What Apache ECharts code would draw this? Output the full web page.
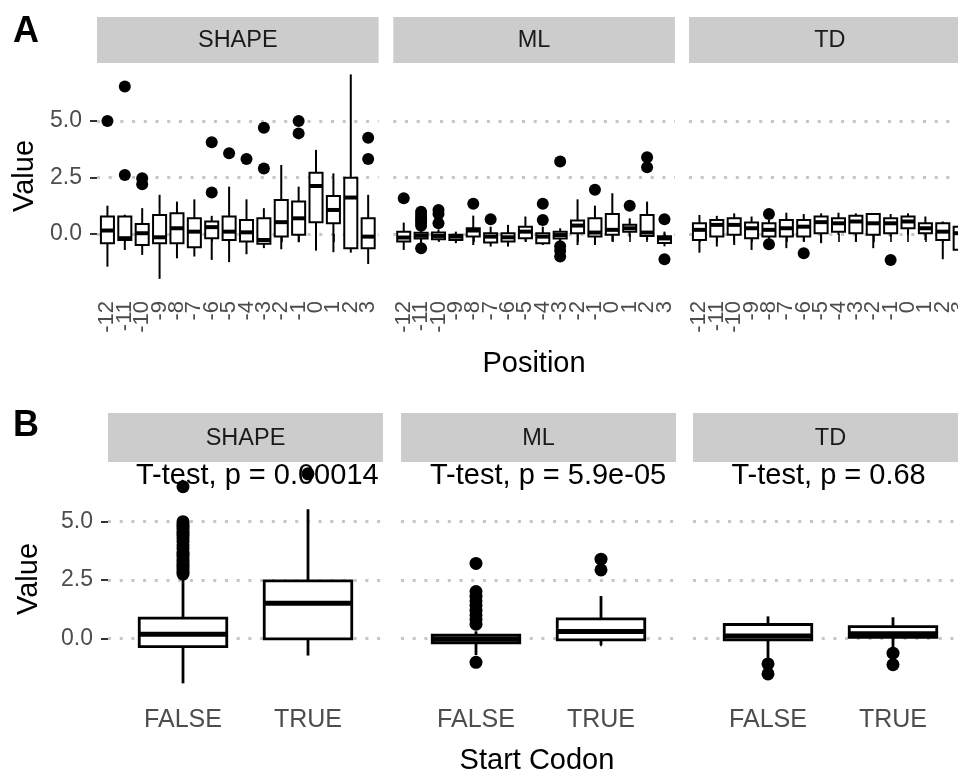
<!DOCTYPE html>
<html><head><meta charset="utf-8">
<script src="https://cdn.jsdelivr.net/npm/echarts@6/dist/echarts.min.js"></script>
<style>html,body{margin:0;padding:0;background:#fff}#c{width:958px;height:770px}</style>
</head><body><div id="c"></div>
<script>
// ---------- DATA ----------
const facetNames = ['SHAPE', 'ML', 'TD'];
const positions = ['-12','-11','-10','-9','-8','-7','-6','-5','-4','-3','-2','-1','0','1','2','3'];
const codonCats = ['FALSE', 'TRUE'];
const yTickValues = [0, 2.5, 5];
const tTestLabels = ['T-test, p = 0.00014', 'T-test, p = 5.9e-05', 'T-test, p = 0.68'];

// box stats: [lower whisker, Q1, median, Q3, upper whisker]
const shapeBoxA = [
  [-1.45,-0.41,0.15,0.77,1.25], [-0.71,-0.27,-0.19,0.77,0.85], [-0.93,-0.49,0.03,0.44,1.14],
  [-1.99,-0.41,-0.15,0.84,1.73], [-1.08,-0.41,0.25,0.91,1.43], [-1.0,-0.59,0.1,0.69,1.53],
  [-1.15,-0.19,0.3,0.55,0.8], [-1.25,-0.27,0.1,0.77,2.09], [-0.9,-0.34,0.07,0.62,1.53],
  [-0.63,-0.44,-0.27,0.69,1.14], [-0.68,-0.12,0.52,1.5,3.05], [-0.37,-0.04,0.69,1.43,2.09],
  [-0.74,0.52,2.12,2.71,3.72], [-0.81,0.47,1.06,1.68,2.68], [-0.83,-0.63,1.61,2.49,7.06],
  [-1.33,-0.63,-0.12,0.69,1.73]
];
const shapeOutA = [[0,5.0],[1,6.52],[1,2.61],[2,2.46],[2,2.2],[6,4.06],[6,1.83],[7,3.57],[8,3.32],
  [9,4.7],[9,2.9],[11,5.0],[11,4.45],[15,4.26],[15,3.32]];

const mlBoxA = [
  [-0.71,-0.34,-0.16,0.1,0.5], [-0.4,-0.2,-0.08,0.05,0.25], [-0.3,-0.24,-0.09,0.06,0.2],
  [-0.41,-0.27,-0.12,-0.04,0.1], [-0.49,-0.12,0.15,0.25,0.81], [-0.56,-0.38,-0.12,0.03,0.32],
  [-0.56,-0.34,-0.15,0.03,0.4], [-0.34,-0.19,0.1,0.32,0.77], [-0.49,-0.41,-0.12,0.03,0.32],
  [-0.35,-0.2,-0.05,0.1,0.25], [-0.49,0.03,0.37,0.59,1.53], [-0.49,-0.12,0.06,0.69,1.25],
  [-0.34,-0.04,0.18,0.88,1.8], [-0.12,0.1,0.25,0.4,0.69], [-0.27,-0.09,0.06,0.84,1.43],
  [-0.55,-0.4,-0.2,-0.1,0.1]
];
const mlOutA = [[0,1.58],[1,0.98],[1,0.85],[1,0.72],[1,0.6],[1,0.48],[1,0.36],[1,-0.63],
  [2,1.06],[2,0.88],[2,0.47],[4,1.33],[5,0.65],[8,1.33],[8,0.62],[9,3.2],[9,-0.55],[9,-0.75],[9,-1.0],
  [11,1.95],[13,1.25],[14,3.39],[14,2.95],[15,0.65],[15,-1.12]];

const tdBoxA = [
  [-0.83,-0.27,0.18,0.47,0.84], [-0.56,-0.12,0.4,0.62,0.8], [-0.49,-0.04,0.4,0.69,0.91],
  [-0.71,-0.19,0.25,0.5,0.77], [-0.27,-0.12,0.18,0.47,0.62], [-0.63,-0.12,0.25,0.62,0.94],
  [-0.34,-0.12,0.32,0.62,0.88], [-0.41,0.03,0.52,0.77,0.91], [-0.04,0.1,0.47,0.69,0.94],
  [-0.34,0.03,0.55,0.8,0.91], [-0.63,-0.04,0.47,0.88,0.91], [-0.12,0.03,0.47,0.69,0.88],
  [-0.04,0.25,0.55,0.77,0.91], [-0.27,0.03,0.25,0.47,0.77], [-1.12,-0.27,0.1,0.47,0.55],
  [-1.0,-0.7,0.03,0.32,0.6]
];
const tdOutA = [[4,0.88],[4,-0.46],[6,-0.86],[11,-1.15]];

const shapeBoxB = [[-1.93,-0.36,0.17,0.86,2.64], [-0.74,-0.03,1.5,2.46,5.53]];
const shapeOutB = [[0,2.75],[0,2.85],[0,2.95],[0,3.05],[0,3.15],[0,3.25],[0,3.35],[0,3.5],[0,3.6],
  [0,3.7],[0,3.85],[0,4.0],[0,4.15],[0,4.3],[0,4.4],[0,4.5],[0,4.6],[0,4.7],[0,4.8],[0,4.9],[0,5.0],
  [0,6.5],[1,7.05]];
const mlBoxB = [[-0.72,-0.2,-0.04,0.13,0.3], [-0.29,-0.07,0.29,0.83,1.81]];
const mlOutB = [[0,3.21],[0,2.0],[0,1.8],[0,1.6],[0,1.4],[0,1.2],[0,1.0],[0,0.8],[0,0.6],[0,-1.03],
  [1,3.39],[1,2.93]];
const tdBoxB = [[-0.96,-0.07,0.1,0.59,0.94], [-0.39,0.04,0.19,0.5,0.9]];
const tdOutB = [[0,-1.1],[0,-1.53],[1,-0.64],[1,-1.13]];

// ---------- LAYOUT / STYLE ----------
const FONT = 'Liberation Sans, Arial, Helvetica, sans-serif';
const rowA = {top: 65.6, height: 221.4, ymin: -2.35, ymax: 7.45, panelLeft: [97, 393.3, 689], panelW: 281.6,
  cats: positions, ratio: 0.75, lw: 2, medW: 4, dot: 12,
  stripTop: 17, stripH: 46,
  xLabel: {rotate: 90, fontSize: 22, margin: 14}};
const rowB = {top: 464, height: 229.8, ymin: -2.38, ymax: 7.47, panelLeft: [108, 401, 693], panelW: 275,
  cats: codonCats, ratio: 0.70, lw: 2.8, medW: 5, dot: 13,
  stripTop: 413, stripH: 49,
  xLabel: {rotate: 0, fontSize: 25, margin: 14}};

const grids = [], xAxes = [], yAxes = [], series = [], graphics = [];

function addPanel(row, col, boxes, outs) {
  const nCat = row.cats.length;
  const band = row.panelW / (nCat + 0.2);
  const pl = row.panelLeft[col];
  // background grid (full panel width) for dotted grid lines + y axis
  const bi = grids.length;
  grids.push({left: pl, top: row.top, width: row.panelW, height: row.height, containLabel: false, outerBoundsMode: 'none'});
  xAxes.push({type: 'value', gridIndex: bi, min: 0, max: 1, show: false});
  yAxes.push({type: 'value', gridIndex: bi, min: row.ymin, max: row.ymax, show: col === 0,
    axisLine: {show: false}, splitLine: {show: false},
    axisTick: {show: true, customValues: yTickValues, length: 7, lineStyle: {color: '#333333', width: 2}},
    axisLabel: {customValues: yTickValues, formatter: v => Number(v).toFixed(1), fontSize: 23,
      color: '#4d4d4d', margin: 15, fontFamily: FONT}});
  series.push({type: 'line', xAxisIndex: bi, yAxisIndex: bi, data: [[0, 0], [1, 0]], showSymbol: false,
    lineStyle: {opacity: 0}, silent: true, z: 0, animation: false,
    markLine: {silent: true, z: 0, symbol: ['none', 'none'], label: {show: false}, animation: false,
      lineStyle: {color: '#c6c6c6', width: 3, type: [3, 8.7]},
      emphasis: {disabled: true},
      data: yTickValues.map(v => ({yAxis: v}))}});
  // category grid for the boxes
  const ci = grids.length;
  grids.push({left: pl + 0.1 * band, top: row.top, width: nCat * band, height: row.height, containLabel: false, outerBoundsMode: 'none'});
  xAxes.push({type: 'category', gridIndex: ci, data: row.cats,
    axisLine: {show: false}, splitLine: {show: false},
    axisTick: {show: true, alignWithLabel: true, interval: 0, length: 8, lineStyle: {color: '#333333', width: 2}},
    axisLabel: {interval: 0, rotate: row.xLabel.rotate, fontSize: row.xLabel.fontSize, margin: row.xLabel.margin,
      color: '#4d4d4d', fontFamily: FONT}});
  yAxes.push({type: 'value', gridIndex: ci, min: row.ymin, max: row.ymax, show: false});
  const ratio = row.ratio, lw = row.lw, medW = row.medW;
  series.push({type: 'custom', xAxisIndex: ci, yAxisIndex: ci, z: 10, silent: true, animation: false,
    data: boxes.map((b, i) => [i].concat(b)),
    encode: {x: 0, y: [1, 2, 3, 4, 5]},
    renderItem: (params, api) => {
      const i = api.value(0);
      const bw = api.size([1, 0])[0];
      const hw = bw * ratio / 2;
      const lo = api.coord([i, api.value(1)]);
      const q1 = api.coord([i, api.value(2)]);
      const md = api.coord([i, api.value(3)]);
      const q3 = api.coord([i, api.value(4)]);
      const hi = api.coord([i, api.value(5)]);
      const x = lo[0];
      return {type: 'group', children: [
        {type: 'line', shape: {x1: x, y1: hi[1], x2: x, y2: q3[1]}, style: {stroke: '#000', lineWidth: lw}},
        {type: 'line', shape: {x1: x, y1: q1[1], x2: x, y2: lo[1]}, style: {stroke: '#000', lineWidth: lw}},
        {type: 'rect', shape: {x: x - hw, y: q3[1], width: 2 * hw, height: q1[1] - q3[1]},
          style: {stroke: '#000', lineWidth: lw, fill: '#ffffff'}},
        {type: 'line', shape: {x1: x - hw, y1: md[1], x2: x + hw, y2: md[1]}, style: {stroke: '#000', lineWidth: medW}}
      ]};
    }});
  series.push({type: 'scatter', xAxisIndex: ci, yAxisIndex: ci, data: outs, symbolSize: row.dot,
    itemStyle: {color: '#000', opacity: 1}, z: 11, silent: true, animation: false});
  // strip
  graphics.push({type: 'rect', shape: {x: pl, y: row.stripTop, width: row.panelW, height: row.stripH},
    style: {fill: '#cccccc'}, silent: true});
  graphics.push({type: 'text', x: pl + row.panelW / 2, y: row.stripTop + row.stripH / 2 + 1,
    style: {text: facetNames[col], fontSize: 23.5, fontFamily: FONT, fill: '#1a1a1a', align: 'center', verticalAlign: 'middle'}, silent: true});
}

addPanel(rowA, 0, shapeBoxA, shapeOutA);
addPanel(rowA, 1, mlBoxA, mlOutA);
addPanel(rowA, 2, tdBoxA, tdOutA);
addPanel(rowB, 0, shapeBoxB, shapeOutB);
addPanel(rowB, 1, mlBoxB, mlOutB);
addPanel(rowB, 2, tdBoxB, tdOutB);

// titles and labels
const txt = (text, x, y, size, opts) => Object.assign({type: 'text', x: x, y: y, silent: true,
  style: Object.assign({text: text, fontSize: size, fontFamily: FONT, fill: '#000', align: 'center', verticalAlign: 'middle'}, (opts && opts.style) || {})},
  (opts && opts.el) || {});
graphics.push(txt('A', 13, 32, 36, {style: {fontWeight: 'bold', align: 'left'}}));
graphics.push(txt('B', 13, 426, 36, {style: {fontWeight: 'bold', align: 'left'}}));
graphics.push(txt('Value', 25, 176, 29, {el: {rotation: Math.PI / 2}}));
graphics.push(txt('Value', 29, 579, 29, {el: {rotation: Math.PI / 2}}));
graphics.push(txt('Position', 534, 364, 29));
graphics.push(txt('Start Codon', 537, 761, 29));
const tLeft = [136, 430, 731.5];
tTestLabels.forEach((t, i) => graphics.push(txt(t, tLeft[i], 476, 29, {style: {align: 'left'}})));

const chart = echarts.init(document.getElementById('c'), null, {renderer: 'canvas'});
chart.setOption({
  backgroundColor: '#ffffff',
  animation: false,
  grid: grids, xAxis: xAxes, yAxis: yAxes, series: series,
  graphic: {elements: graphics}
});
</script></body></html>
